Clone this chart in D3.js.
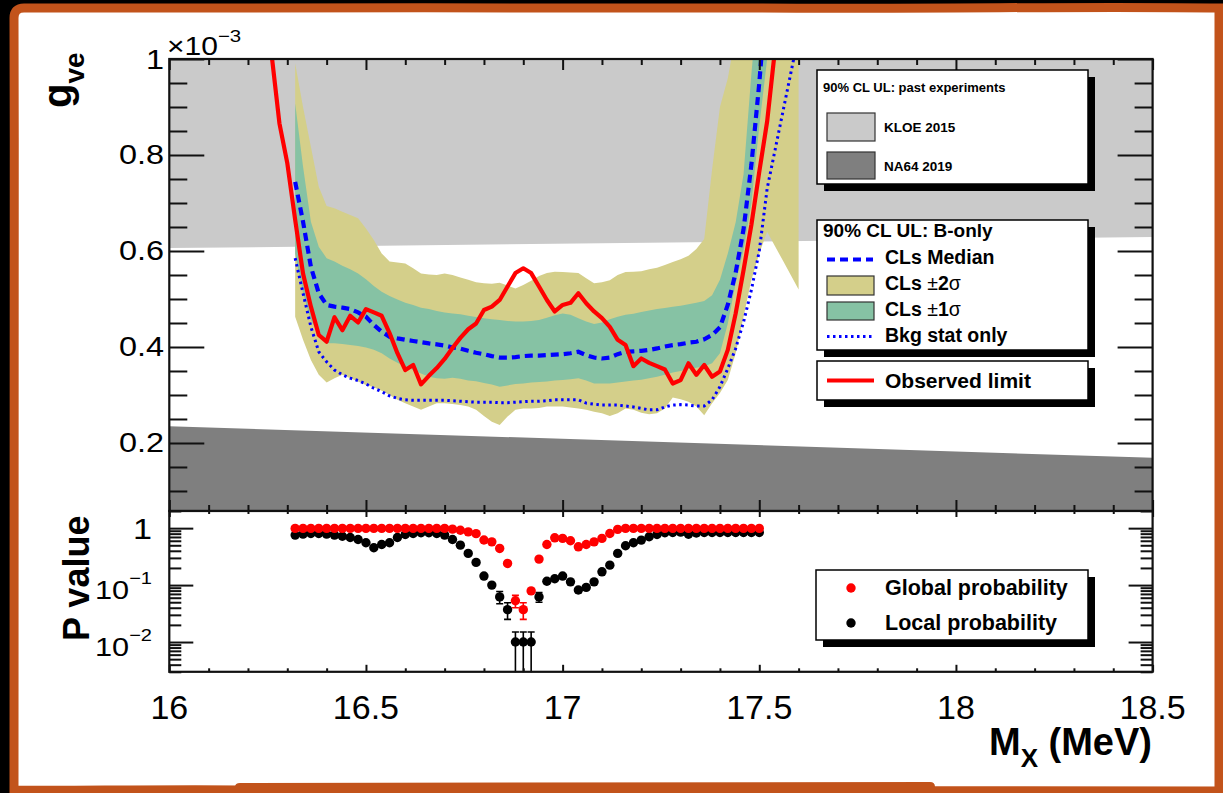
<!DOCTYPE html>
<html>
<head>
<meta charset="utf-8">
<script src="https://cdn.jsdelivr.net/npm/d3@7"></script>
<style>
  html, body { margin: 0; padding: 0; background: #000; }
  svg { display: block; }
  text { font-family: "Liberation Sans", Arial, Helvetica, sans-serif; fill: #000; }
</style>
</head>
<body>
<svg id="chart" width="1223" height="793"></svg>
<script>
// ---------------- data ----------------
// Observed 90% CL upper limit on g_ve (x 1e-3) vs M_X (MeV)
const obsMass = [16.24,16.26,16.28,16.30,16.32,16.34,16.36,16.38,16.40,16.42,16.44,16.46,16.48,16.50,16.52,16.54,16.56,16.58,16.60,16.62,16.64,16.66,16.68,16.70,16.72,16.74,16.76,16.78,16.80,16.82,16.84,16.86,16.88,16.90,16.92,16.94,16.96,16.98,17.00,17.02,17.04,17.06,17.08,17.10,17.12,17.14,17.16,17.18,17.20,17.22,17.24,17.26,17.28,17.30,17.32,17.34,17.36,17.38,17.40,17.42,17.44,17.46,17.48,17.50,17.52,17.54,17.56];
const obsLimit = [1.40,1.01,0.866,0.783,0.665,0.553,0.484,0.425,0.411,0.462,0.435,0.465,0.451,0.479,0.472,0.465,0.429,0.387,0.352,0.3625,0.322,0.340,0.356,0.375,0.398,0.419,0.437,0.449,0.477,0.484,0.498,0.526,0.554,0.564,0.554,0.526,0.498,0.474,0.4875,0.492,0.512,0.491,0.474,0.460,0.442,0.415,0.404,0.360,0.376,0.367,0.360,0.353,0.324,0.331,0.366,0.342,0.3625,0.338,0.349,0.394,0.470,0.560,0.655,0.765,0.870,1.02,1.30];

// Expected (B-only) CLs median
const medMass = [16.32,16.34,16.36,16.38,16.40,16.42,16.44,16.46,16.48,16.50,16.52,16.54,16.56,16.58,16.60,16.62,16.64,16.66,16.68,16.70,16.72,16.74,16.76,16.78,16.80,16.82,16.84,16.86,16.88,16.90,16.92,16.94,16.96,16.98,17.00,17.02,17.04,17.06,17.08,17.10,17.12,17.14,17.16,17.18,17.20,17.22,17.24,17.26,17.28,17.30,17.32,17.34,17.36,17.38,17.40,17.42,17.44,17.46,17.48,17.50,17.52];
const medLimit = [0.744,0.661,0.567,0.512,0.4875,0.484,0.482,0.479,0.472,0.463,0.446,0.432,0.4215,0.418,0.415,0.4125,0.410,0.4075,0.4055,0.403,0.399,0.3965,0.392,0.388,0.385,0.381,0.378,0.378,0.379,0.381,0.382,0.382,0.383,0.384,0.385,0.387,0.390,0.383,0.378,0.376,0.378,0.385,0.390,0.391,0.392,0.394,0.397,0.401,0.404,0.406,0.409,0.411,0.416,0.425,0.441,0.488,0.555,0.645,0.780,0.950,1.150];

// Background-statistics-only expectation
const bkgMass = [16.32,16.34,16.36,16.38,16.40,16.42,16.44,16.46,16.48,16.50,16.52,16.54,16.56,16.58,16.60,16.62,16.64,16.66,16.68,16.70,16.72,16.74,16.76,16.78,16.80,16.82,16.84,16.86,16.88,16.90,16.92,16.94,16.96,16.98,17.00,17.02,17.04,17.06,17.08,17.10,17.12,17.14,17.16,17.18,17.20,17.22,17.24,17.26,17.28,17.30,17.32,17.34,17.36,17.38,17.40,17.42,17.44,17.46,17.48,17.50,17.52,17.54,17.56,17.58,17.60];
const bkgLimit = [0.585,0.512,0.442,0.390,0.369,0.352,0.342,0.335,0.330,0.323,0.314,0.307,0.298,0.293,0.290,0.289,0.289,0.289,0.289,0.289,0.288,0.287,0.286,0.285,0.285,0.285,0.284,0.284,0.285,0.286,0.287,0.287,0.288,0.290,0.290,0.290,0.290,0.283,0.281,0.279,0.279,0.279,0.277,0.275,0.272,0.269,0.269,0.275,0.279,0.280,0.279,0.277,0.277,0.290,0.317,0.355,0.397,0.452,0.519,0.600,0.730,0.810,0.890,0.970,1.050];

// +-1 sigma and +-2 sigma bands
const bandMass = [16.32,16.34,16.36,16.38,16.40,16.42,16.44,16.46,16.48,16.50,16.52,16.54,16.56,16.58,16.60,16.62,16.64,16.66,16.68,16.70,16.72,16.74,16.76,16.78,16.80,16.82,16.84,16.86,16.88,16.90,16.92,16.94,16.96,16.98,17.00,17.02,17.04,17.06,17.08,17.10,17.12,17.14,17.16,17.18,17.20,17.22,17.24,17.26,17.28,17.30,17.32,17.34,17.36,17.38,17.40,17.42,17.44,17.46,17.48,17.50,17.52,17.54,17.56,17.58,17.60];
const band2Hi = [0.991,0.900,0.817,0.734,0.694,0.689,0.682,0.675,0.668,0.647,0.623,0.595,0.578,0.576,0.574,0.564,0.553,0.551,0.550,0.553,0.550,0.545,0.540,0.535,0.533,0.532,0.534,0.528,0.522,0.529,0.538,0.548,0.554,0.557,0.556,0.555,0.554,0.543,0.533,0.535,0.539,0.550,0.556,0.557,0.558,0.562,0.565,0.571,0.577,0.583,0.590,0.604,0.625,0.770,0.900,0.960,1.050,1.200,1.350,1.500,1.600,1.700,1.800,1.900,2.000];
const band2Lo = [0.463,0.415,0.373,0.342,0.326,0.335,0.342,0.335,0.328,0.321,0.316,0.309,0.300,0.290,0.283,0.276,0.269,0.276,0.283,0.283,0.281,0.279,0.276,0.269,0.256,0.244,0.2375,0.255,0.269,0.272,0.272,0.273,0.276,0.276,0.276,0.274,0.272,0.269,0.265,0.262,0.256,0.262,0.272,0.269,0.263,0.260,0.262,0.272,0.295,0.291,0.286,0.276,0.258,0.283,0.304,0.331,0.387,0.463,0.540,0.595,0.640,0.610,0.580,0.550,0.520];
const band1Hi = [0.908,0.776,0.661,0.609,0.585,0.578,0.569,0.562,0.553,0.541,0.527,0.515,0.506,0.499,0.492,0.4875,0.482,0.479,0.475,0.472,0.470,0.468,0.465,0.4625,0.460,0.458,0.456,0.454,0.453,0.453,0.454,0.456,0.461,0.466,0.470,0.467,0.460,0.453,0.448,0.451,0.458,0.463,0.467,0.469,0.473,0.476,0.479,0.481,0.484,0.486,0.489,0.492,0.496,0.508,0.540,0.595,0.660,0.760,0.970,1.150,1.300,1.400,1.500,1.600,1.700];
const band1Lo = [0.595,0.512,0.456,0.425,0.408,0.408,0.406,0.404,0.402,0.399,0.394,0.387,0.376,0.367,0.359,0.352,0.345,0.338,0.335,0.334,0.336,0.334,0.330,0.3285,0.325,0.322,0.317,0.320,0.323,0.324,0.326,0.327,0.328,0.330,0.331,0.333,0.335,0.330,0.324,0.324,0.324,0.326,0.328,0.330,0.332,0.335,0.338,0.342,0.347,0.350,0.354,0.357,0.360,0.366,0.387,0.449,0.533,0.602,0.700,0.860,1.000,1.100,1.200,1.300,1.400];

// Limits from earlier experiments (straight lines in this range)
const kloeMass = [16.0, 18.5];
const kloeLimit = [0.606, 0.629];
const na64Mass = [16.0, 18.5];
const na64Limit = [0.235, 0.169];

// P values of the observed result
const pMass = [16.32,16.34,16.36,16.38,16.40,16.42,16.44,16.46,16.48,16.50,16.52,16.54,16.56,16.58,16.60,16.62,16.64,16.66,16.68,16.70,16.72,16.74,16.76,16.78,16.80,16.82,16.84,16.86,16.88,16.90,16.92,16.94,16.96,16.98,17.00,17.02,17.04,17.06,17.08,17.10,17.12,17.14,17.16,17.18,17.20,17.22,17.24,17.26,17.28,17.30,17.32,17.34,17.36,17.38,17.40,17.42,17.44,17.46,17.48,17.50];
const pGlobal = [0.99,0.99,0.99,0.99,0.99,0.99,0.99,0.99,0.99,0.99,0.99,0.99,0.99,0.99,0.99,0.99,0.99,0.99,0.99,0.99,0.96,0.92,0.86,0.80,0.62,0.575,0.44,0.24,0.053,0.037,0.079,0.286,0.517,0.676,0.66,0.60,0.47,0.517,0.575,0.66,0.806,0.95,0.99,0.99,0.99,0.99,0.99,0.99,0.99,0.99,0.99,0.99,0.99,0.99,0.99,0.99,0.99,0.99,0.99,0.99];
const pGlobalErr = [0,0,0,0,0,0,0,0,0,0,0,0,0,0,0,0,0,0,0,0,0,0,0,0,0,0,0,0,0.013,0.012,0,0,0,0,0,0,0,0,0,0,0,0,0,0,0,0,0,0,0,0,0,0,0,0,0,0,0,0,0,0];
const pLocal = [0.754,0.785,0.806,0.806,0.785,0.754,0.72,0.686,0.633,0.553,0.452,0.517,0.553,0.686,0.775,0.806,0.83,0.83,0.806,0.754,0.633,0.503,0.36,0.25,0.144,0.100,0.062,0.037,0.010,0.010,0.010,0.062,0.117,0.129,0.144,0.114,0.082,0.091,0.114,0.171,0.224,0.36,0.49,0.553,0.616,0.705,0.775,0.83,0.84,0.85,0.78,0.82,0.84,0.84,0.84,0.84,0.84,0.84,0.84,0.84];
const pLocalErrUp = [0,0,0,0,0,0,0,0,0,0,0,0,0,0,0,0,0,0,0,0,0,0,0,0,0,0,0.015,0.012,0.005,0.005,0.005,0.012,0,0,0,0,0.008,0,0,0,0,0,0,0,0,0,0,0,0,0,0,0,0,0,0,0,0,0,0,0];
const pLocalErrDn = [0,0,0,0,0,0,0,0,0,0,0,0,0,0,0,0,0,0,0,0,0,0,0,0,0,0,0.015,0.012,0.010,0.010,0.010,0.012,0,0,0,0,0.008,0,0,0,0,0,0,0,0,0,0,0,0,0,0,0,0,0,0,0,0,0,0,0];

// axis tick values
const xMajor = [16, 16.5, 17, 17.5, 18, 18.5];
const xMinor = [16.1,16.2,16.3,16.4,16.6,16.7,16.8,16.9,17.1,17.2,17.3,17.4,17.6,17.7,17.8,17.9,18.1,18.2,18.3,18.4];
const xLabels = ["16", "16.5", "17", "17.5", "18", "18.5"];
const gMajor = [0.2, 0.4, 0.6, 0.8, 1.0];
const gMinor = [0.1, 0.15, 0.25, 0.3, 0.35, 0.45, 0.5, 0.55, 0.65, 0.7, 0.75, 0.85, 0.9, 0.95];
const gLabels = ["0.2", "0.4", "0.6", "0.8", "1"];
const pMajor = [0.01, 0.1, 1];
const pMinor = [0.003,0.004,0.005,0.006,0.007,0.008,0.009,0.02,0.03,0.04,0.05,0.06,0.07,0.08,0.09,0.2,0.3,0.4,0.5,0.6,0.7,0.8,0.9,2];
const pLabelExp = ["\u22122", "\u22121", ""];

// ---------------- drawing ----------------
const svg = d3.select("#chart");
const W = 1223, H = 793;
const ORANGE = "#c2531b";

// paper frame
svg.append("rect").attr("width", W).attr("height", H).attr("fill", "#000");
svg.append("path")
  .attr("d", "M14,18 Q14,8 24,8 C260,10 520,6 760,8 C950,9 1100,6 1219,8 L1219,791 C900,790 520,792 260,790 C150,789 60,791 14,790 C13,600 15,300 14,18 Z")
  .attr("fill", "#fff").attr("stroke", ORANGE).attr("stroke-width", 9);
svg.append("path")
  .attr("d", "M235,793 L235,787 Q235,783 240,783 L930,782 Q935,782 935,787 L935,793 Z")
  .attr("fill", ORANGE);

const xL = 169.3, xR = 1152.6;
const topY0 = 59, topY1 = 511, botY0 = 511, botY1 = 671.8;

const x = d3.scaleLinear().domain([16, 18.5]).range([xL, xR]);
const yTop = d3.scaleLinear().domain([0.0583, 1]).range([topY1, topY0]);
const yBot = d3.scaleLog().domain([0.003, 2]).range([botY1, botY0]);

const defs = svg.append("defs");
defs.append("clipPath").attr("id", "clipTop")
  .append("rect").attr("x", xL).attr("y", topY0).attr("width", xR - xL).attr("height", topY1 - topY0);
defs.append("clipPath").attr("id", "clipBot")
  .append("rect").attr("x", xL).attr("y", botY0).attr("width", xR - xL).attr("height", botY1 - botY0 + 0.5);

// ---------- upper pad ----------
const upperPad = svg.append("g").attr("clip-path", "url(#clipTop)");

const kloe = kloeMass.map((m, i) => ({ m, v: kloeLimit[i] }));
const na64 = na64Mass.map((m, i) => ({ m, v: na64Limit[i] }));
upperPad.append("path").datum(kloe)
  .attr("d", d3.area().x(d => x(d.m)).y0(topY0).y1(d => yTop(d.v)))
  .attr("fill", "#cacaca");
upperPad.append("path").datum(na64)
  .attr("d", d3.area().x(d => x(d.m)).y0(topY1).y1(d => yTop(d.v)))
  .attr("fill", "#7f7f7f");

const bands = bandMass.map((m, i) => ({ m, lo2: band2Lo[i], hi2: band2Hi[i], lo1: band1Lo[i], hi1: band1Hi[i] }));
upperPad.append("path").datum(bands)
  .attr("d", d3.area().x(d => x(d.m)).y0(d => yTop(d.lo2)).y1(d => yTop(d.hi2)))
  .attr("fill", "#d4cf8a");
upperPad.append("path").datum(bands)
  .attr("d", d3.area().x(d => x(d.m)).y0(d => yTop(d.lo1)).y1(d => yTop(d.hi1)))
  .attr("fill", "#86c2a4");

const lineG = d3.line().x(d => x(d.m)).y(d => yTop(d.v));
upperPad.append("path").datum(bkgMass.map((m, i) => ({ m, v: bkgLimit[i] })))
  .attr("d", lineG).attr("fill", "none").attr("stroke", "#0000ff")
  .attr("stroke-width", 3).attr("stroke-dasharray", "2.5,3.5");
upperPad.append("path").datum(medMass.map((m, i) => ({ m, v: medLimit[i] })))
  .attr("d", lineG).attr("fill", "none").attr("stroke", "#0000ff")
  .attr("stroke-width", 4.2).attr("stroke-dasharray", "8,5");
upperPad.append("path").datum(obsMass.map((m, i) => ({ m, v: obsLimit[i] })))
  .attr("d", lineG).attr("fill", "none").attr("stroke", "#ff0000")
  .attr("stroke-width", 4.2).attr("stroke-linejoin", "round");

// draws an axis with inward ticks and no domain line
function ticks(axis, tx, ty) {
  const g = svg.append("g").attr("transform", `translate(${tx},${ty})`).call(axis);
  g.select(".domain").remove();
  g.selectAll(".tick line").attr("stroke", "#111").attr("stroke-width", 2);
  return g;
}

// upper pad axes
ticks(d3.axisLeft(yTop).tickValues(gMajor).tickSize(-35).tickFormat(""), xL, 0);
ticks(d3.axisLeft(yTop).tickValues(gMinor).tickSize(-18).tickFormat(""), xL, 0);
ticks(d3.axisRight(yTop).tickValues(gMajor).tickSize(-35).tickFormat(""), xR, 0);
ticks(d3.axisRight(yTop).tickValues(gMinor).tickSize(-18).tickFormat(""), xR, 0);
ticks(d3.axisTop(x).tickValues(xMajor).tickSize(-11).tickFormat(""), 0, topY0);
ticks(d3.axisTop(x).tickValues(xMinor).tickSize(-6).tickFormat(""), 0, topY0);
ticks(d3.axisBottom(x).tickValues(xMajor).tickSize(-11).tickFormat(""), 0, topY1);
ticks(d3.axisBottom(x).tickValues(xMinor).tickSize(-6).tickFormat(""), 0, topY1);

svg.append("g").selectAll("text").data(gMajor).join("text")
  .attr("transform", d => `translate(164,${yTop(d) + 9.5}) scale(1.2,1)`)
  .attr("text-anchor", "end").attr("font-size", 27)
  .text((d, i) => gLabels[i]);

// axis multiplier
const mult = svg.append("text").attr("transform", "translate(167,55) scale(1.2,1)").attr("font-size", 25);
mult.append("tspan").text("\u00d710");
mult.append("tspan").attr("font-size", 17).attr("dy", -13).text("\u22123");

// y title g_ve
const gt = svg.append("text").attr("transform", "translate(71,108) rotate(-90)")
  .attr("font-size", 40).attr("font-weight", "bold");
gt.append("tspan").text("g");
gt.append("tspan").attr("font-size", 28).attr("dy", 13).text("ve");

svg.append("rect").attr("x", xL).attr("y", topY0).attr("width", xR - xL).attr("height", topY1 - topY0)
  .attr("fill", "none").attr("stroke", "#111").attr("stroke-width", 2.2);

// ---------- lower pad ----------
svg.append("rect").attr("x", xL).attr("y", botY0).attr("width", xR - xL).attr("height", botY1 - botY0)
  .attr("fill", "#fff");
const lowerPad = svg.append("g").attr("clip-path", "url(#clipBot)");

const pts = pMass.map((m, i) => ({
  m, g: pGlobal[i], ge: pGlobalErr[i], l: pLocal[i], lu: pLocalErrUp[i], ld: pLocalErrDn[i]
}));
const yErr = v => (v <= 0.003 ? botY1 + 2 : yBot(v));

// local probability: error bars and markers
const lErr = lowerPad.append("g").attr("stroke", "#000").attr("stroke-width", 1.6);
pts.filter(d => d.lu > 0 || d.ld > 0).forEach(d => {
  const cx = x(d.m), yHi = yBot(d.l + d.lu), yLo = yErr(d.l - d.ld);
  lErr.append("line").attr("x1", cx).attr("x2", cx).attr("y1", yHi).attr("y2", yLo);
  lErr.append("line").attr("x1", cx - 3.5).attr("x2", cx + 3.5).attr("y1", yHi).attr("y2", yHi);
  if (d.l - d.ld > 0.003) lErr.append("line").attr("x1", cx - 3.5).attr("x2", cx + 3.5).attr("y1", yLo).attr("y2", yLo);
});
lowerPad.append("g").selectAll("circle").data(pts).join("circle")
  .attr("cx", d => x(d.m)).attr("cy", d => yBot(d.l)).attr("r", 4.7).attr("fill", "#000");

// global probability: error bars and markers
const gErr = lowerPad.append("g").attr("stroke", "#ff0000").attr("stroke-width", 1.6);
pts.filter(d => d.ge > 0).forEach(d => {
  const cx = x(d.m), yHi = yBot(d.g + d.ge), yLo = yBot(d.g - d.ge);
  gErr.append("line").attr("x1", cx).attr("x2", cx).attr("y1", yHi).attr("y2", yLo);
  gErr.append("line").attr("x1", cx - 3.5).attr("x2", cx + 3.5).attr("y1", yHi).attr("y2", yHi);
  gErr.append("line").attr("x1", cx - 3.5).attr("x2", cx + 3.5).attr("y1", yLo).attr("y2", yLo);
});
lowerPad.append("g").selectAll("circle").data(pts).join("circle")
  .attr("cx", d => x(d.m)).attr("cy", d => yBot(d.g)).attr("r", 4.7).attr("fill", "#ff0000");

// lower pad axes
ticks(d3.axisLeft(yBot).tickValues(pMajor).tickSize(-24).tickFormat(""), xL, 0);
ticks(d3.axisLeft(yBot).tickValues(pMinor).tickSize(-12).tickFormat(""), xL, 0);
ticks(d3.axisRight(yBot).tickValues(pMajor).tickSize(-24).tickFormat(""), xR, 0);
ticks(d3.axisRight(yBot).tickValues(pMinor).tickSize(-12).tickFormat(""), xR, 0);
ticks(d3.axisTop(x).tickValues(xMajor).tickSize(-6).tickFormat(""), 0, botY0);
ticks(d3.axisTop(x).tickValues(xMinor).tickSize(-3).tickFormat(""), 0, botY0);
ticks(d3.axisBottom(x).tickValues(xMajor).tickSize(-7).tickFormat(""), 0, botY1);
ticks(d3.axisBottom(x).tickValues(xMinor).tickSize(-3.5).tickFormat(""), 0, botY1);

// log labels
pMajor.forEach((v, i) => {
  const t = svg.append("text").attr("text-anchor", "end")
    .attr("transform", `translate(152,${yBot(v) + (i === 2 ? 11 : 14)}) scale(1.18,1)`)
    .attr("font-size", i === 2 ? 29 : 26);
  if (i === 2) { t.text("1"); }
  else {
    t.append("tspan").text("10");
    t.append("tspan").attr("font-size", 17).attr("dy", -15).text(pLabelExp[i]);
  }
});

// x labels
svg.append("g").selectAll("text").data(xMajor).join("text")
  .attr("x", d => x(d)).attr("y", 719).attr("text-anchor", "middle").attr("font-size", 34)
  .text((d, i) => xLabels[i]);

// x title
const xt = svg.append("text").attr("x", 1152).attr("y", 755).attr("text-anchor", "end")
  .attr("font-size", 38).attr("font-weight", "bold");
xt.append("tspan").text("M");
xt.append("tspan").attr("font-size", 26).attr("dy", 12).text("X");
xt.append("tspan").attr("dy", -12).text(" (MeV)");

// P value title
svg.append("text").attr("transform", "translate(89,641) rotate(-90)")
  .attr("font-size", 36).attr("font-weight", "bold").text("P value");

svg.append("rect").attr("x", xL).attr("y", botY0).attr("width", xR - xL).attr("height", botY1 - botY0)
  .attr("fill", "none").attr("stroke", "#111").attr("stroke-width", 2.2);

// ---------- legends ----------
function legendBox(x0, y0, w, h) {
  svg.append("rect").attr("x", x0 + 7).attr("y", y0 + 7).attr("width", w).attr("height", h).attr("fill", "#000");
  svg.append("rect").attr("x", x0).attr("y", y0).attr("width", w).attr("height", h)
    .attr("fill", "#fff").attr("stroke", "#000").attr("stroke-width", 1.5);
}

// past experiments
legendBox(817, 70, 271, 114);
svg.append("text").attr("x", 823).attr("y", 92).attr("font-size", 13).attr("font-weight", "bold")
  .text("90% CL UL: past experiments");
svg.append("rect").attr("x", 827).attr("y", 113).attr("width", 48).attr("height", 28)
  .attr("fill", "#cacaca").attr("stroke", "#333").attr("stroke-width", 1.2);
svg.append("text").attr("x", 884).attr("y", 132).attr("font-size", 13.5).attr("font-weight", "bold").text("KLOE 2015");
svg.append("rect").attr("x", 827).attr("y", 152).attr("width", 48).attr("height", 27)
  .attr("fill", "#7f7f7f").attr("stroke", "#333").attr("stroke-width", 1.2);
svg.append("text").attr("x", 884).attr("y", 171).attr("font-size", 13.5).attr("font-weight", "bold").text("NA64 2019");

// B-only expectation
legendBox(817, 220, 271, 130);
svg.append("text").attr("x", 823).attr("y", 237).attr("font-size", 19).attr("font-weight", "bold").text("90% CL UL: B-only");
svg.append("line").attr("x1", 827).attr("x2", 873).attr("y1", 259.5).attr("y2", 259.5)
  .attr("stroke", "#0000ff").attr("stroke-width", 4.2).attr("stroke-dasharray", "8,5");
svg.append("text").attr("x", 885).attr("y", 264).attr("font-size", 19.5).attr("font-weight", "bold").text("CLs Median");
svg.append("rect").attr("x", 827).attr("y", 276).attr("width", 47).attr("height", 19)
  .attr("fill", "#d4cf8a").attr("stroke", "#333").attr("stroke-width", 1.2);
const s2 = svg.append("text").attr("x", 885).attr("y", 290).attr("font-size", 19.5).attr("font-weight", "bold");
s2.append("tspan").text("CLs ");
s2.append("tspan").attr("font-weight", "normal").text("\u00b1");
s2.append("tspan").text("2");
s2.append("tspan").attr("font-weight", "normal").text("\u03c3");
svg.append("rect").attr("x", 827).attr("y", 302).attr("width", 47).attr("height", 18)
  .attr("fill", "#86c2a4").attr("stroke", "#333").attr("stroke-width", 1.2);
const s1 = svg.append("text").attr("x", 885).attr("y", 316).attr("font-size", 19.5).attr("font-weight", "bold");
s1.append("tspan").text("CLs ");
s1.append("tspan").attr("font-weight", "normal").text("\u00b1");
s1.append("tspan").text("1");
s1.append("tspan").attr("font-weight", "normal").text("\u03c3");
svg.append("line").attr("x1", 827).attr("x2", 873).attr("y1", 336.5).attr("y2", 336.5)
  .attr("stroke", "#0000ff").attr("stroke-width", 3).attr("stroke-dasharray", "2.5,3.5");
svg.append("text").attr("x", 885).attr("y", 342).attr("font-size", 19.5).attr("font-weight", "bold").text("Bkg stat only");

// observed
legendBox(817, 361, 271, 39);
svg.append("line").attr("x1", 827).attr("x2", 874).attr("y1", 380.5).attr("y2", 380.5)
  .attr("stroke", "#ff0000").attr("stroke-width", 4.2);
svg.append("text").attr("x", 885).attr("y", 388).attr("font-size", 21).attr("font-weight", "bold").text("Observed limit");

// p-value legend
legendBox(816, 570, 272, 70);
svg.append("circle").attr("cx", 851).attr("cy", 588).attr("r", 4.7).attr("fill", "#ff0000");
svg.append("text").attr("x", 885).attr("y", 595).attr("font-size", 21.5).attr("font-weight", "bold").text("Global probability");
svg.append("circle").attr("cx", 851).attr("cy", 623).attr("r", 4.7).attr("fill", "#000");
svg.append("text").attr("x", 885).attr("y", 630).attr("font-size", 21.5).attr("font-weight", "bold").text("Local probability");
</script>
</body>
</html>
